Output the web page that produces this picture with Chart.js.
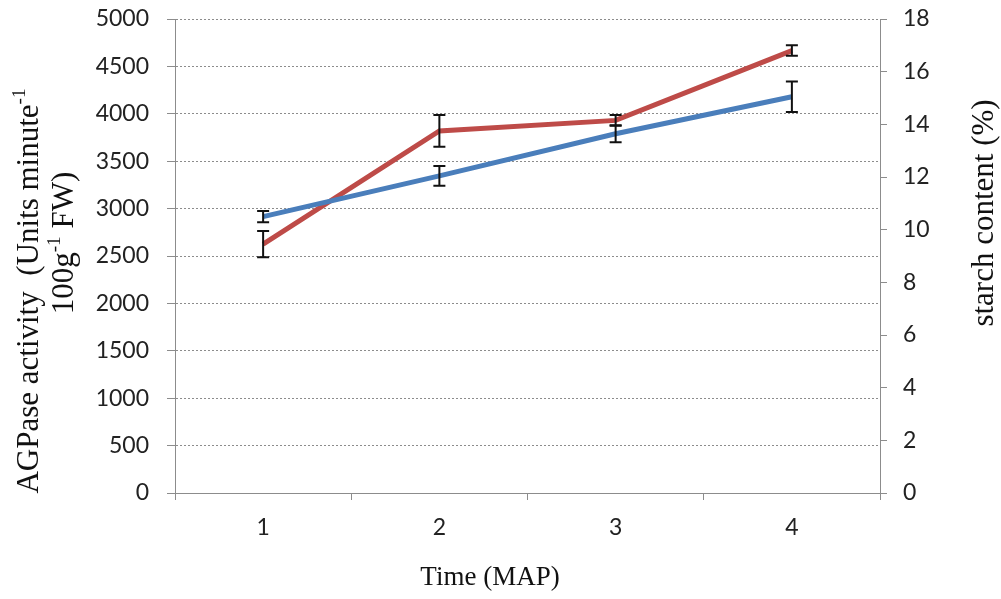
<!DOCTYPE html>
<html>
<head>
<meta charset="utf-8">
<script src="https://cdn.jsdelivr.net/npm/chart.js@4.4.0/dist/chart.umd.min.js"></script>
<style>
  html, body { margin: 0; padding: 0; background: #fff; }
  #wrap { width: 1001px; height: 599px; position: relative; }
</style>
</head>
<body>
<div id="wrap"><canvas id="chart"></canvas></div>
<script>
// Values
const categories = ['1', '2', '3', '4'];
const agpase = [2915, 3345, 3790, 4180];
const agpaseErr = [60, 105, 90, 160];
const starch = [9.45, 13.75, 14.15, 16.8];
const starchErr = [0.5, 0.6, 0.2, 0.2];

const leftTicks = { min: 0, max: 5000, step: 500 };
const rightTicks = { min: 0, max: 18, step: 2 };

const tickFont = { family: 'Lato, "Open Sans", sans-serif', size: 23 };
const serif = '"Liberation Serif", "Times New Roman", serif';
const gridGray = '#8c8c8c';

// Draws a line of text with optional superscript parts, centred on 0,0
function drawRich(ctx, parts, size) {
    let total = 0;
    parts.forEach(p => {
        ctx.font = (p.sup ? size * 0.62 : size) + 'px ' + serif;
        p.w = ctx.measureText(p.t).width;
        total += p.w;
    });
    let x = -total / 2;
    parts.forEach(p => {
        ctx.font = (p.sup ? size * 0.62 : size) + 'px ' + serif;
        ctx.fillText(p.t, x, p.sup ? -size * 0.33 : 0);
        x += p.w;
    });
}

const titlesPlugin = {
    id: 'titles',
    afterDraw(chart) {
        const ctx = chart.ctx;
        ctx.save();
        ctx.fillStyle = '#111';
        ctx.textAlign = 'left';
        ctx.textBaseline = 'middle';

        ctx.save();
        ctx.translate(30, 291);
        ctx.rotate(-Math.PI / 2);
        drawRich(ctx, [{ t: 'AGPase activity  (Units minute' }, { t: '-1', sup: true }], 31);
        ctx.restore();

        ctx.save();
        ctx.translate(65, 243);
        ctx.rotate(-Math.PI / 2);
        drawRich(ctx, [{ t: '100g' }, { t: '-1', sup: true }, { t: ' FW)' }], 31);
        ctx.restore();

        ctx.save();
        ctx.translate(985, 213);
        ctx.rotate(-Math.PI / 2);
        drawRich(ctx, [{ t: 'starch content (%)' }], 31);
        ctx.restore();

        ctx.save();
        ctx.translate(490, 578);
        drawRich(ctx, [{ t: 'Time (MAP)' }], 27);
        ctx.restore();

        ctx.restore();
    }
};

// Vertical error bars with caps, positioned through the dataset's own scale
const errorBarsPlugin = {
    id: 'errorBars',
    afterDatasetsDraw(chart) {
        const ctx = chart.ctx;
        ctx.save();
        ctx.strokeStyle = '#111';
        ctx.lineWidth = 2;
        chart.data.datasets.forEach((ds, i) => {
            const meta = chart.getDatasetMeta(i);
            const scale = chart.scales[ds.yAxisID];
            ds.data.forEach((v, j) => {
                const e = ds.errors[j];
                const x = meta.data[j].x;
                const yTop = scale.getPixelForValue(v + e);
                const yBot = scale.getPixelForValue(v - e);
                ctx.beginPath();
                ctx.moveTo(x, yTop); ctx.lineTo(x, yBot);
                ctx.moveTo(x - 6, yTop); ctx.lineTo(x + 6, yTop);
                ctx.moveTo(x - 6, yBot); ctx.lineTo(x + 6, yBot);
                ctx.stroke();
            });
        });
        ctx.restore();
    }
};

// fixed axis sizes so the plot area sits where it does in the figure
function fixVertical(width) {
    return s => {
        s.width = width;
        s.paddingTop = 0;
        s.paddingBottom = 0;
    };
}

new Chart(document.getElementById('chart'), {
    type: 'line',
    data: {
        labels: categories,
        datasets: [{
            label: 'AGPase activity',
            data: agpase,
            errors: agpaseErr,
            yAxisID: 'y',
            borderColor: '#4a7ebb',
            borderWidth: 5,
            pointRadius: 0,
            tension: 0
        }, {
            label: 'starch content',
            data: starch,
            errors: starchErr,
            yAxisID: 'y1',
            borderColor: '#be4b48',
            borderWidth: 5,
            pointRadius: 0,
            tension: 0
        }]
    },
    options: {
        responsive: true,
        maintainAspectRatio: false,
        animation: false,
        layout: { padding: { top: 19, left: 0, right: 0, bottom: 0 } },
        plugins: {
            legend: { display: false },
            tooltip: { enabled: false }
        },
        scales: {
            x: {
                offset: true,
                grid: { offset: true, drawOnChartArea: false, color: gridGray, tickLength: 7 },
                border: { color: gridGray },
                ticks: { font: tickFont, color: '#222', padding: 14 },
                afterFit: s => { s.height = 106; }
            },
            y: {
                position: 'left',
                min: leftTicks.min,
                max: leftTicks.max,
                grid: { color: gridGray, tickLength: 8, tickBorderDash: [] },
                border: { color: gridGray, dash: [2, 2] },
                ticks: { font: tickFont, color: '#222', stepSize: leftTicks.step, padding: 18, callback: v => String(v) },
                afterFit: fixVertical(175)
            },
            y1: {
                position: 'right',
                min: rightTicks.min,
                max: rightTicks.max,
                grid: { drawOnChartArea: false, color: gridGray, tickLength: 7 },
                border: { color: gridGray },
                ticks: { font: tickFont, color: '#222', stepSize: rightTicks.step, padding: 16, callback: v => String(v) },
                afterFit: fixVertical(121)
            }
        }
    },
    plugins: [errorBarsPlugin, titlesPlugin]
});
</script>
</body>
</html>
